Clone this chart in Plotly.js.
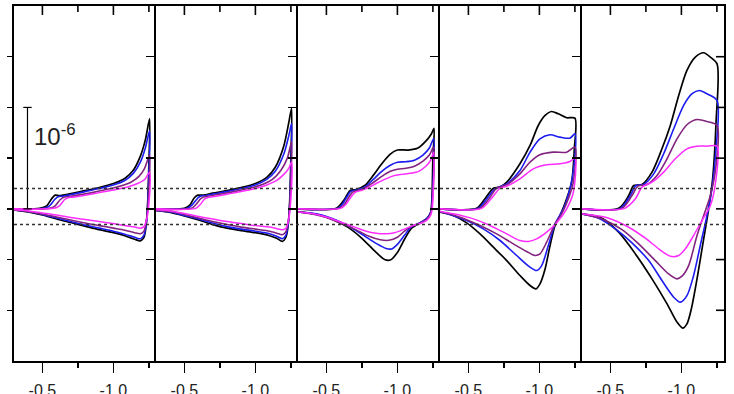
<!DOCTYPE html>
<html>
<head>
<meta charset="utf-8">
<script src="https://cdn.plot.ly/plotly-3.0.1.min.js"></script>
<style>
  html, body { margin: 0; padding: 0; background: #ffffff; }
  #chart { width: 734px; height: 394px; }
</style>
</head>
<body>
<div id="chart"></div>
<script>
// Cyclic voltammograms, five panels; potential in V, current in µA.
// Each loop: forward sweep from -0.30 V to the switching potential, then back.

// ---- panel 1 ----
const p1_black_E = [-0.30,-0.48,-0.53,-0.565,-0.59,-0.62,-0.70,-0.80,-0.90,-1.00,-1.08,-1.14,-1.19,-1.225,-1.255,
                    -1.25,-1.235,-1.215,-1.19,-1.15,-1.08,-1.00,-0.90,-0.80,-0.70,-0.60,-0.50,-0.40,-0.30];
const p1_black_I = [0.00,0.005,0.03,0.10,0.135,0.13,0.15,0.18,0.21,0.25,0.30,0.38,0.52,0.68,0.89,
                    0.45,-0.10,-0.28,-0.315,-0.30,-0.265,-0.235,-0.205,-0.17,-0.135,-0.10,-0.06,-0.03,-0.01];
const p1_blue_E = [-0.30,-0.51,-0.55,-0.585,-0.61,-0.64,-0.70,-0.80,-0.90,-1.00,-1.08,-1.14,-1.19,-1.225,-1.255,
                   -1.25,-1.235,-1.215,-1.19,-1.15,-1.08,-1.00,-0.90,-0.80,-0.70,-0.60,-0.50,-0.40,-0.30];
const p1_blue_I = [0.00,0.005,0.03,0.09,0.12,0.125,0.14,0.17,0.20,0.235,0.28,0.35,0.46,0.60,0.77,
                   0.35,-0.10,-0.26,-0.295,-0.28,-0.25,-0.22,-0.19,-0.16,-0.125,-0.09,-0.055,-0.025,-0.01];
const p1_purple_E = [-0.30,-0.55,-0.59,-0.625,-0.65,-0.68,-0.75,-0.85,-0.95,-1.05,-1.12,-1.18,-1.22,-1.255,
                     -1.25,-1.235,-1.215,-1.19,-1.15,-1.08,-1.00,-0.90,-0.80,-0.70,-0.60,-0.50,-0.40,-0.30];
const p1_purple_I = [0.00,0.005,0.03,0.09,0.115,0.12,0.135,0.16,0.19,0.225,0.26,0.32,0.40,0.53,
                     0.20,-0.08,-0.22,-0.245,-0.235,-0.21,-0.19,-0.165,-0.14,-0.11,-0.08,-0.05,-0.025,-0.01];
const p1_magenta_E = [-0.30,-0.58,-0.62,-0.655,-0.68,-0.71,-0.80,-0.90,-1.00,-1.10,-1.17,-1.22,-1.255,
                      -1.25,-1.235,-1.215,-1.19,-1.15,-1.08,-1.00,-0.90,-0.80,-0.70,-0.60,-0.50,-0.40,-0.30];
const p1_magenta_I = [0.00,0.005,0.03,0.09,0.11,0.115,0.135,0.16,0.185,0.215,0.25,0.29,0.36,
                      0.05,-0.10,-0.175,-0.19,-0.18,-0.165,-0.145,-0.125,-0.105,-0.085,-0.06,-0.04,-0.02,-0.01];

// ---- panel 2 ----
const p2_black_E = [-0.30,-0.50,-0.54,-0.57,-0.595,-0.63,-0.70,-0.80,-0.90,-1.00,-1.08,-1.14,-1.20,-1.235,-1.255,
                    -1.25,-1.235,-1.215,-1.19,-1.15,-1.10,-1.00,-0.90,-0.80,-0.70,-0.60,-0.50,-0.40,-0.30];
const p2_black_I = [0.00,0.005,0.04,0.11,0.135,0.135,0.155,0.18,0.21,0.25,0.31,0.41,0.62,0.85,0.99,
                    0.50,-0.10,-0.28,-0.32,-0.29,-0.265,-0.235,-0.215,-0.19,-0.155,-0.11,-0.07,-0.035,-0.015];
const p2_blue_E = [-0.30,-0.52,-0.555,-0.59,-0.61,-0.645,-0.70,-0.80,-0.90,-1.00,-1.08,-1.14,-1.20,-1.235,-1.255,
                   -1.25,-1.235,-1.215,-1.19,-1.15,-1.10,-1.00,-0.90,-0.80,-0.70,-0.60,-0.50,-0.40,-0.30];
const p2_blue_I = [0.00,0.005,0.04,0.10,0.125,0.13,0.145,0.17,0.20,0.235,0.29,0.37,0.54,0.72,0.84,
                   0.40,-0.10,-0.26,-0.295,-0.27,-0.245,-0.22,-0.20,-0.175,-0.14,-0.10,-0.065,-0.03,-0.015];
const p2_purple_E = [-0.30,-0.55,-0.58,-0.615,-0.64,-0.67,-0.75,-0.85,-0.95,-1.05,-1.12,-1.18,-1.225,-1.255,
                     -1.25,-1.235,-1.215,-1.19,-1.15,-1.10,-1.00,-0.90,-0.80,-0.70,-0.60,-0.50,-0.40,-0.30];
const p2_purple_I = [0.00,0.005,0.04,0.10,0.12,0.125,0.145,0.17,0.20,0.24,0.29,0.38,0.50,0.66,
                     0.30,-0.08,-0.225,-0.255,-0.24,-0.22,-0.20,-0.18,-0.155,-0.125,-0.09,-0.055,-0.025,-0.015];
const p2_magenta_E = [-0.30,-0.58,-0.61,-0.645,-0.67,-0.70,-0.80,-0.90,-1.00,-1.08,-1.15,-1.20,-1.235,-1.255,
                      -1.25,-1.235,-1.215,-1.19,-1.15,-1.10,-1.00,-0.90,-0.80,-0.70,-0.60,-0.50,-0.40,-0.30];
const p2_magenta_I = [0.00,0.005,0.04,0.10,0.115,0.12,0.145,0.17,0.20,0.235,0.28,0.34,0.40,0.46,
                      0.10,-0.10,-0.19,-0.205,-0.195,-0.18,-0.165,-0.145,-0.125,-0.10,-0.075,-0.045,-0.02,-0.01];

// ---- panel 3 ----
const p3_black_E = [-0.30,-0.57,-0.63,-0.665,-0.71,-0.77,-0.83,-0.89,-0.95,-1.00,-1.075,-1.145,-1.205,-1.24,-1.258,
                    -1.25,-1.243,-1.235,-1.21,-1.17,-1.10,-1.05,-1.00,-0.95,-0.91,-0.85,-0.75,-0.65,-0.55,-0.45,-0.30];
const p3_black_I = [0.00,0.007,0.10,0.18,0.19,0.23,0.33,0.445,0.54,0.58,0.58,0.60,0.675,0.74,0.795,
                    0.50,0.10,-0.03,-0.09,-0.13,-0.19,-0.30,-0.43,-0.505,-0.50,-0.43,-0.29,-0.18,-0.11,-0.06,-0.03];
const p3_blue_E = [-0.30,-0.58,-0.61,-0.645,-0.67,-0.71,-0.77,-0.83,-0.89,-0.95,-1.00,-1.06,-1.12,-1.18,-1.225,-1.255,
                   -1.245,-1.235,-1.21,-1.17,-1.10,-1.05,-1.00,-0.96,-0.92,-0.85,-0.75,-0.65,-0.55,-0.45,-0.30];
const p3_blue_I = [0.00,0.005,0.04,0.12,0.17,0.185,0.215,0.29,0.37,0.43,0.46,0.465,0.48,0.53,0.60,0.69,
                   0.10,-0.03,-0.09,-0.13,-0.175,-0.26,-0.35,-0.395,-0.39,-0.34,-0.25,-0.165,-0.10,-0.055,-0.03];
const p3_purple_E = [-0.30,-0.59,-0.625,-0.66,-0.685,-0.72,-0.77,-0.83,-0.89,-0.95,-1.00,-1.06,-1.12,-1.18,-1.225,-1.255,
                     -1.245,-1.235,-1.21,-1.17,-1.10,-1.05,-1.00,-0.94,-0.88,-0.80,-0.70,-0.60,-0.50,-0.40,-0.30];
const p3_purple_I = [0.00,0.005,0.04,0.12,0.165,0.18,0.205,0.26,0.32,0.37,0.39,0.40,0.42,0.47,0.53,0.61,
                     0.05,-0.04,-0.10,-0.135,-0.17,-0.22,-0.28,-0.31,-0.305,-0.27,-0.20,-0.14,-0.085,-0.05,-0.03];
const p3_magenta_E = [-0.30,-0.60,-0.635,-0.67,-0.70,-0.74,-0.79,-0.85,-0.91,-0.97,-1.03,-1.09,-1.15,-1.20,-1.235,-1.255,
                      -1.245,-1.235,-1.21,-1.17,-1.10,-1.04,-0.98,-0.92,-0.85,-0.78,-0.70,-0.60,-0.50,-0.40,-0.30];
const p3_magenta_I = [0.00,0.005,0.04,0.11,0.16,0.18,0.205,0.25,0.29,0.325,0.34,0.35,0.37,0.42,0.48,0.56,
                      0.00,-0.06,-0.11,-0.14,-0.17,-0.205,-0.235,-0.245,-0.24,-0.22,-0.18,-0.13,-0.08,-0.045,-0.03];

// ---- panel 4 ----
const p4_black_E = [-0.30,-0.558,-0.617,-0.676,-0.723,-0.77,-0.863,-0.934,-0.992,-1.04,-1.086,-1.133,-1.192,-1.25,
                    -1.246,-1.227,-1.192,-1.145,-1.11,-1.075,-1.04,-1.004,-0.976,-0.934,-0.863,-0.77,-0.676,-0.582,-0.488,-0.394,-0.30];
const p4_black_I = [0.00,0.005,0.10,0.204,0.214,0.263,0.444,0.625,0.822,0.921,0.96,0.937,0.898,0.894,
                    0.592,0.263,0.099,-0.066,-0.164,-0.362,-0.592,-0.74,-0.789,-0.756,-0.657,-0.51,-0.378,-0.247,-0.138,-0.066,-0.033];
const p4_blue_E = [-0.30,-0.57,-0.63,-0.687,-0.77,-0.863,-0.934,-1.004,-1.075,-1.145,-1.215,-1.251,
                   -1.244,-1.215,-1.169,-1.11,-1.063,-1.016,-0.981,-0.934,-0.84,-0.723,-0.605,-0.488,-0.30];
const p4_blue_I = [0.00,0.005,0.10,0.197,0.247,0.378,0.559,0.69,0.73,0.707,0.697,0.74,
                   0.427,0.197,0.00,-0.148,-0.362,-0.559,-0.608,-0.575,-0.46,-0.312,-0.197,-0.115,-0.026];
const p4_purple_E = [-0.30,-0.582,-0.645,-0.699,-0.77,-0.863,-0.934,-1.004,-1.098,-1.192,-1.251,
                     -1.239,-1.204,-1.157,-1.11,-1.051,-1.004,-0.969,-0.91,-0.816,-0.699,-0.582,-0.441,-0.30];
const p4_purple_I = [0.00,0.005,0.10,0.204,0.237,0.345,0.46,0.533,0.559,0.559,0.608,
                     0.263,0.099,-0.049,-0.148,-0.329,-0.444,-0.46,-0.42,-0.345,-0.247,-0.164,-0.082,-0.026];
const p4_magenta_E = [-0.30,-0.593,-0.66,-0.723,-0.77,-0.863,-0.957,-1.051,-1.145,-1.215,-1.251,
                      -1.239,-1.192,-1.122,-1.051,-0.981,-0.922,-0.863,-0.77,-0.652,-0.535,-0.394,-0.30];
const p4_magenta_I = [0.00,0.005,0.10,0.204,0.224,0.296,0.394,0.434,0.444,0.467,0.50,
                      0.164,0.00,-0.138,-0.23,-0.296,-0.322,-0.312,-0.247,-0.164,-0.099,-0.049,-0.026];

// ---- panel 5 ----
const p5_black_E = [-0.30,-0.558,-0.629,-0.664,-0.723,-0.793,-0.863,-0.922,-0.981,-1.039,-1.098,-1.157,-1.204,-1.251,
                    -1.244,-1.22,-1.192,-1.157,-1.11,-1.07,-1.039,-1.009,-0.969,-0.899,-0.793,-0.676,-0.558,-0.441,-0.30];
const p5_black_I = [0.00,0.005,0.131,0.23,0.24,0.362,0.592,0.822,1.118,1.365,1.496,1.539,1.496,1.43,
                    0.855,0.296,0.00,-0.296,-0.69,-0.986,-1.134,-1.176,-1.117,-0.937,-0.69,-0.444,-0.23,-0.092,-0.049];
const p5_blue_E = [-0.30,-0.57,-0.64,-0.68,-0.734,-0.805,-0.875,-0.946,-1.016,-1.075,-1.126,-1.18,-1.251,
                   -1.244,-1.215,-1.18,-1.133,-1.086,-1.039,-0.992,-0.946,-0.863,-0.77,-0.652,-0.535,-0.417,-0.30];
const p5_blue_I = [0.00,0.005,0.131,0.23,0.24,0.345,0.543,0.79,1.02,1.135,1.167,1.135,1.069,
                   0.592,0.197,-0.066,-0.361,-0.657,-0.855,-0.92,-0.871,-0.707,-0.51,-0.335,-0.197,-0.092,-0.049];
const p5_purple_E = [-0.30,-0.58,-0.652,-0.694,-0.758,-0.828,-0.899,-0.969,-1.039,-1.11,-1.18,-1.251,
                     -1.244,-1.204,-1.157,-1.11,-1.051,-1.004,-0.969,-0.91,-0.816,-0.699,-0.582,-0.441,-0.30];
const p5_purple_I = [0.00,0.005,0.131,0.224,0.24,0.329,0.494,0.69,0.829,0.881,0.862,0.822,
                     0.427,0.131,-0.066,-0.263,-0.559,-0.664,-0.69,-0.641,-0.51,-0.345,-0.204,-0.099,-0.049];
const p5_magenta_E = [-0.30,-0.60,-0.676,-0.723,-0.793,-0.875,-0.957,-1.039,-1.11,-1.18,-1.251,
                      -1.244,-1.204,-1.145,-1.086,-1.028,-0.981,-0.922,-0.84,-0.746,-0.629,-0.488,-0.30];
const p5_magenta_I = [0.00,0.005,0.099,0.214,0.263,0.362,0.494,0.592,0.618,0.618,0.618,
                      0.296,0.033,-0.115,-0.263,-0.394,-0.46,-0.467,-0.394,-0.289,-0.181,-0.092,-0.049];

const panels = [
  [[p1_black_E, p1_black_I], [p1_blue_E, p1_blue_I], [p1_purple_E, p1_purple_I], [p1_magenta_E, p1_magenta_I]],
  [[p2_black_E, p2_black_I], [p2_blue_E, p2_blue_I], [p2_purple_E, p2_purple_I], [p2_magenta_E, p2_magenta_I]],
  [[p3_black_E, p3_black_I], [p3_blue_E, p3_blue_I], [p3_purple_E, p3_purple_I], [p3_magenta_E, p3_magenta_I]],
  [[p4_black_E, p4_black_I], [p4_blue_E, p4_blue_I], [p4_purple_E, p4_purple_I], [p4_magenta_E, p4_magenta_I]],
  [[p5_black_E, p5_black_I], [p5_blue_E, p5_blue_I], [p5_purple_E, p5_purple_I], [p5_magenta_E, p5_magenta_I]]
];
const seriesColors = ['#000000', '#1c1cf0', '#82237f', '#ff2cff'];
const seriesWidths = [1.7, 1.6, 1.6, 1.5];

// axes
const potentialRange = [-0.3, -1.3];
const currentRange = [-1.5, 2.0];
const xTickVals = [-0.5, -1.0];
const xTickText = ['-0.5', '-1.0'];
const xMinorVals = [-0.75, -1.25];
const yTickVals = [-1.0, -0.5, 0, 0.5, 1.0, 1.5];

// horizontal reference levels (µA) and the 1 µA scale bar in panel 1
const refLevels = [0.2, -0.155];
const scaleBarE = [-0.395, -0.395];
const scaleBarI = [0, 1];

const traces = [];
const layout = {
  width: 734, height: 394,
  margin: {l: 14, r: 10, t: 6, b: 33},
  paper_bgcolor: '#ffffff', plot_bgcolor: 'rgba(0,0,0,0)',
  showlegend: false,
  font: {family: 'Liberation Sans, Arial, sans-serif', color: '#222'},
  shapes: [], annotations: []
};

const N = panels.length;
const tickStyle = {tickwidth: 1.5, tickcolor: '#000'};
const tickLine = {color: '#000', width: 1.6};

// short inward ticks: anchored at the panel edge value, length in pixels
function topTick(xs, v, len) {
  return {type: 'line', xref: 'x' + xs, x0: v, x1: v,
          yref: 'y' + xs, ysizemode: 'pixel', yanchor: currentRange[1], y0: 0, y1: -len,
          line: tickLine};
}
function rightTick(xs, v, len) {
  return {type: 'line', yref: 'y' + xs, y0: v, y1: v,
          xref: 'x' + xs, xsizemode: 'pixel', xanchor: potentialRange[1], x0: 0, x1: -len,
          line: tickLine};
}

for (let k = 0; k < N; k++) {
  const xs = k === 0 ? '' : String(k + 1);
  const dom = [k / N, (k + 1) / N];

  // bottom axis with labels, outward ticks
  layout['xaxis' + xs] = Object.assign({
    domain: dom, range: potentialRange, anchor: 'y' + xs,
    tickmode: 'array', tickvals: xTickVals, ticktext: xTickText,
    ticks: 'outside', ticklen: 10, ticklabelstandoff: 4,
    minor: Object.assign({tickmode: 'array', tickvals: xMinorVals, ticks: 'outside', ticklen: 5}, tickStyle),
    tickfont: {size: 16, color: '#222'},
    showline: true, linecolor: '#000', linewidth: 1.6, mirror: true,
    showgrid: false, zeroline: false, fixedrange: true
  }, tickStyle);
  layout['yaxis' + xs] = Object.assign({
    domain: [0, 1], range: currentRange, anchor: 'x' + xs,
    tickmode: 'array', tickvals: yTickVals,
    ticks: 'outside', ticklen: k === 0 ? 5 : 8,
    showticklabels: false,
    showline: true, linecolor: '#000', linewidth: 1.6, mirror: k === N - 1,
    showgrid: false, zeroline: false, fixedrange: true
  }, tickStyle);

  // inward ticks along the top edge
  xTickVals.forEach(v => layout.shapes.push(topTick(xs, v, 9)));
  xMinorVals.forEach(v => layout.shapes.push(topTick(xs, v, 6)));
  // inward ticks on the right edge of the last panel
  if (k === N - 1) yTickVals.forEach(v => layout.shapes.push(rightTick(xs, v, 8)));

  panels[k].forEach((c, j) => {
    traces.push({
      type: 'scatter', mode: 'lines', x: c[0], y: c[1],
      xaxis: 'x' + xs, yaxis: 'y' + xs,
      line: {color: seriesColors[j], width: seriesWidths[j], shape: 'spline', smoothing: 0.8},
      hoverinfo: 'skip'
    });
  });
}

// dotted reference levels across all panels
refLevels.forEach(v => {
  layout.shapes.push({
    type: 'line', xref: 'paper', x0: 0, x1: 1, yref: 'y', y0: v, y1: v,
    line: {color: '#333', width: 1.5, dash: 'dot'}
  });
});

// scale bar
traces.push({
  type: 'scatter', mode: 'lines+markers', x: scaleBarE, y: scaleBarI,
  xaxis: 'x', yaxis: 'y', cliponaxis: false,
  line: {color: '#000', width: 1.2},
  marker: {symbol: 'line-ew', size: 6, line: {color: '#000', width: 1.2}},
  hoverinfo: 'skip'
});
layout.annotations.push({
  x: -0.426, y: 0.73, xref: 'x', yref: 'y', xanchor: 'left', yanchor: 'middle',
  text: '10<sup>-6</sup>', showarrow: false,
  font: {size: 24, color: '#222', family: 'Liberation Sans, Arial, sans-serif'}
});

Plotly.newPlot('chart', traces, layout, {displayModeBar: false, staticPlot: true});
</script>
</body>
</html>
